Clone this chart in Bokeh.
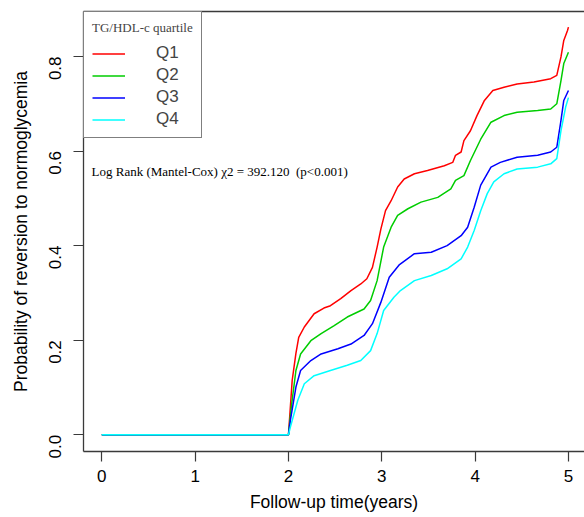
import math
from bokeh.plotting import figure
from bokeh.models import (Range1d, FixedTicker, LinearAxis, Legend, LegendItem, Label,
                          PrintfTickFormatter)
from bokeh.embed import file_html
from bokeh.resources import INLINE

# ---- data ----
groups = ["Q1", "Q2", "Q3", "Q4"]
colors = ["#FF0000", "#00CD00", "#0000FF", "#00FFFF"]

q1_t = [0, 2.0, 2.04, 2.08, 2.11, 2.17, 2.275, 2.38, 2.45, 2.56, 2.67, 2.775, 2.84, 2.90, 2.95, 2.99,
        3.04, 3.10, 3.17, 3.24, 3.35, 3.49, 3.67, 3.76, 3.79, 3.85, 3.88, 3.95, 4.02, 4.10, 4.19, 4.31,
        4.45, 4.63, 4.81, 4.875, 4.92, 4.95, 4.99, 5.0]
q1_p = [0, 0, 0.115, 0.172, 0.206, 0.228, 0.256, 0.268, 0.273, 0.288, 0.305, 0.319, 0.330, 0.354, 0.397, 0.435,
        0.474, 0.495, 0.524, 0.541, 0.552, 0.559, 0.569, 0.576, 0.591, 0.598, 0.622, 0.643, 0.675, 0.707, 0.728, 0.735,
        0.742, 0.746, 0.753, 0.760, 0.799, 0.834, 0.855, 0.862]

q2_t = [0, 2.0, 2.03, 2.08, 2.13, 2.24, 2.35, 2.49, 2.63, 2.81, 2.88, 2.95, 3.02, 3.10, 3.17, 3.28, 3.42,
        3.60, 3.74, 3.79, 3.88, 3.95, 4.06, 4.17, 4.31, 4.45, 4.67, 4.81, 4.875, 4.92, 4.95, 5.0]
q2_p = [0, 0, 0.058, 0.136, 0.171, 0.199, 0.214, 0.231, 0.249, 0.266, 0.284, 0.326, 0.397, 0.439, 0.464, 0.478, 0.492,
        0.502, 0.520, 0.538, 0.548, 0.580, 0.625, 0.661, 0.675, 0.682, 0.686, 0.689, 0.700, 0.749, 0.785, 0.809]

q3_t = [0, 2.0, 2.02, 2.08, 2.13, 2.24, 2.35, 2.53, 2.67, 2.81, 2.90, 2.99, 3.08, 3.19, 3.35, 3.53, 3.70,
        3.85, 3.92, 3.99, 4.06, 4.17, 4.27, 4.45, 4.67, 4.81, 4.875, 4.92, 4.95, 5.0]
q3_p = [0, 0, 0.030, 0.101, 0.136, 0.157, 0.171, 0.182, 0.192, 0.210, 0.235, 0.280, 0.333, 0.360, 0.383, 0.386, 0.400,
        0.421, 0.439, 0.481, 0.528, 0.566, 0.576, 0.587, 0.591, 0.598, 0.608, 0.665, 0.707, 0.728]

q4_t = [0, 2.0, 2.02, 2.10, 2.17, 2.275, 2.45, 2.63, 2.775, 2.88, 2.95, 3.02, 3.13, 3.20, 3.35, 3.53, 3.70,
        3.85, 3.92, 3.99, 4.06, 4.13, 4.20, 4.31, 4.45, 4.67, 4.81, 4.875, 4.92, 4.97, 5.0]
q4_p = [0, 0, 0.016, 0.073, 0.108, 0.125, 0.136, 0.147, 0.157, 0.178, 0.214, 0.263, 0.291, 0.305, 0.326, 0.337, 0.351,
        0.372, 0.397, 0.432, 0.474, 0.510, 0.535, 0.552, 0.562, 0.566, 0.573, 0.584, 0.643, 0.693, 0.713]

series_t = [q1_t, q2_t, q3_t, q4_t]
series_p = [q1_p, q2_p, q3_p, q4_p]

x_ticks = [0, 1, 2, 3, 4, 5]
y_ticks = [0.0, 0.2, 0.4, 0.6, 0.8]

x_title = "Follow-up time(years)"
y_title = "Probability of reversion to normoglycemia"
legend_title = "TG/HDL-c quartile"
stat_text = "Log Rank (Mantel-Cox) \u03c72 = 392.120 \u00a0(p<0.001)"

SANS = "Liberation Sans"
SERIF = "Liberation Serif"
FRAME = "#3a3a3a"

p = figure(width=584, height=517, output_backend="svg", toolbar_location=None,
           x_range=Range1d(-0.196, 5.172), y_range=Range1d(-0.0353, 0.8951),
           min_border_left=83, min_border_right=0, min_border_top=11, min_border_bottom=66)
p.outline_line_color = None
p.xgrid.visible = False
p.ygrid.visible = False
p.background_fill_color = "white"
p.border_fill_color = "white"

renderers = []
for t, v, c in zip(series_t, series_p, colors):
    r = p.line(t, v, line_color=c, line_width=1.5)
    renderers.append(r)

# axes
xa = p.xaxis[0]
xa.ticker = FixedTicker(ticks=x_ticks)
ya = p.yaxis[0]
ya.ticker = FixedTicker(ticks=y_ticks)
ya.formatter = PrintfTickFormatter(format="%.1f")
for ax in (xa, ya):
    ax.axis_line_color = FRAME
    ax.axis_line_width = 1.3
    ax.major_tick_line_color = FRAME
    ax.major_tick_line_width = 1.2
    ax.major_tick_out = 10
    ax.major_tick_in = 0
    ax.minor_tick_line_color = None
    ax.major_label_text_font = SANS
    ax.major_label_text_font_size = "17px"
    ax.major_label_text_color = "black"
    ax.axis_label_text_font = SANS
    ax.axis_label_text_font_size = "17.5px"
    ax.axis_label_text_font_style = "normal"
    ax.axis_label_text_color = "black"
xa.axis_label = x_title
ya.axis_label = y_title
xa.major_label_standoff = 8
xa.axis_label_standoff = 7
ya.major_label_orientation = math.pi / 2
ya.major_label_standoff = 18
ya.axis_label_standoff = 10

top = LinearAxis(ticker=FixedTicker(ticks=[]), axis_line_color=FRAME, axis_line_width=1.3,
                 major_tick_line_color=None, minor_tick_line_color=None,
                 major_label_text_font_size="0px", major_tick_out=0, major_label_standoff=0)
p.add_layout(top, "above")

legend = Legend(items=[LegendItem(label=g, renderers=[r]) for g, r in zip(groups, renderers)],
                location="top_left", margin=0, padding=8,
                title=legend_title, title_text_font=SERIF, title_text_font_size="13px",
                title_text_font_style="normal", title_standoff=7,
                label_text_font=SANS, label_text_font_size="17px",
                glyph_width=33, glyph_height=19, label_height=19, spacing=2,
                label_standoff=31, border_line_color="black", border_line_width=1,
                background_fill_color="white", background_fill_alpha=1.0)
p.add_layout(legend)

p.add_layout(Label(x=-0.11, y=0.557, text=stat_text, text_font=SERIF, text_font_size="13px",
                   text_baseline="middle", text_color="black"))

open("out.html", "w").write(file_html(p, INLINE))
